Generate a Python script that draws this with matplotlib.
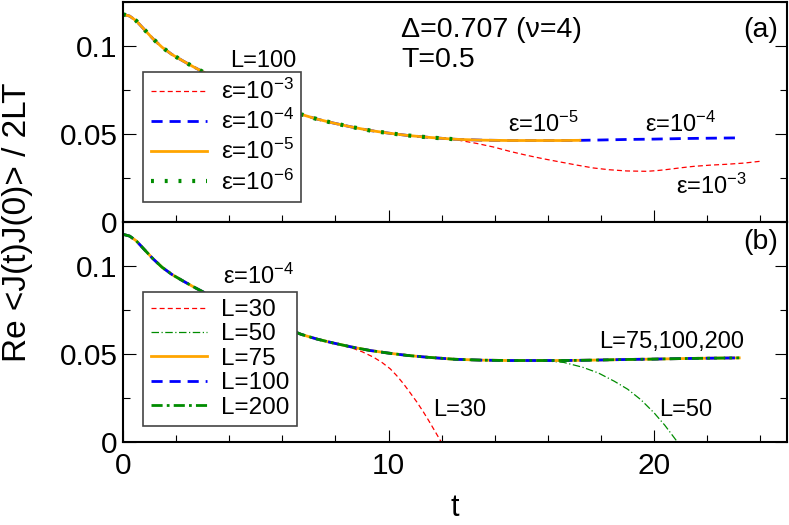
import numpy as np
import matplotlib
matplotlib.use('Agg')
import matplotlib.pyplot as plt
from matplotlib.ticker import MultipleLocator

plt.rcParams['font.family'] = ['Liberation Sans', 'DejaVu Sans']
plt.rcParams['mathtext.fontset'] = 'custom'
plt.rcParams['mathtext.rm'] = 'Liberation Sans'
plt.rcParams['mathtext.it'] = 'Liberation Sans'

# common curve (converged part)
t_main = np.array([0, 0.25, 0.5, 0.8, 1.13, 1.47, 1.85, 2.26, 2.66, 3.0, 3.5, 4.0,
                   4.5, 5.0, 5.5, 6.0, 6.7, 7.3, 7.9, 8.6, 9.3, 10.0, 10.7, 11.5,
                   12.5, 13.5, 14.5, 15.5, 16.5, 17.2, 18.0, 19.0, 20.0, 21.0,
                   22.0, 23.2])
c_main = np.array([0.1180, 0.1170, 0.1143, 0.1094, 0.1041, 0.0993, 0.0951, 0.0915,
                   0.0881, 0.0854, 0.0815, 0.0779, 0.0745, 0.0714, 0.0684, 0.0656,
                   0.0612, 0.0585, 0.0563, 0.0540, 0.0520, 0.0505, 0.0492, 0.0481,
                   0.0470, 0.0465, 0.0463, 0.0463, 0.0463, 0.0464, 0.0466, 0.0469,
                   0.0471, 0.0474, 0.0476, 0.0478])

# (a) eps = 1e-3 tail after it leaves the common curve
t_e3 = np.array([12.7, 13.3, 13.95, 14.6, 15.2, 15.8, 16.46, 17.1, 17.71, 18.3,
                 18.97, 19.72, 20.1, 20.47, 21.0, 21.48, 22.1, 22.73, 23.4, 24.05])
c_e3 = np.array([0.0463, 0.0447, 0.0426, 0.0400, 0.0379, 0.0360, 0.0341, 0.0323,
                 0.0307, 0.0297, 0.0290, 0.0288, 0.0292, 0.0298, 0.0308, 0.0316,
                 0.0323, 0.0328, 0.0335, 0.0346])
tend_e5 = 17.2
tend_e6 = 12.6

# (b) L=30 and L=50 tails
t_L30 = np.array([8.55, 9.0, 9.43, 9.75, 10.06, 10.3, 10.56, 10.8, 11.06, 11.3,
                  11.5, 11.75, 12.0])
c_L30 = np.array([0.0538, 0.0513, 0.0482, 0.0452, 0.0416, 0.0378, 0.0331, 0.0282,
                  0.0228, 0.0173, 0.0124, 0.0060, -0.0005])
t_L50 = np.array([16.0, 16.6, 17.3, 17.9, 18.5, 19.0, 19.5, 20.0, 20.4, 20.9])
c_L50 = np.array([0.0460, 0.0452, 0.0425, 0.0392, 0.0345, 0.0300, 0.0240, 0.0165,
                  0.0095, -0.0005])


def head(tcut):
    m = t_main < tcut
    return t_main[m], c_main[m]


def join(tt, cc):
    t0, c0 = head(tt[0])
    return np.concatenate([t0, tt]), np.concatenate([c0, cc])


fig = plt.figure(figsize=(7.89, 5.25), dpi=100)
W, H = 789., 525.
ax1 = fig.add_axes([123 / W, 1 - 222 / H, 664 / W, 220 / H])
ax2 = fig.add_axes([123 / W, 1 - 442 / H, 664 / W, 220 / H])

red = '#ff0000'
blue = '#0000ff'
orange = '#ffa500'
green = '#008c00'

# panel (a)
x, y = join(t_e3, c_e3)
ax1.plot(x, y, color=red, lw=0.9, dashes=(4, 2.5), label=r'ε=10$^{-3}$')
ax1.plot(t_main, c_main, color=blue, lw=2.0, dashes=(4, 2.5), label=r'ε=10$^{-4}$')
x, y = head(tend_e5 + 0.01)
ax1.plot(x, y, color=orange, lw=2.0, label=r'ε=10$^{-5}$')
x, y = head(tend_e6 + 0.01)
ax1.plot(x, y, color=green, lw=3.0, dashes=(0.7, 2.6), label=r'ε=10$^{-6}$')

# panel (b)
x, y = join(t_L30, c_L30)
ax2.plot(x, y, color=red, lw=0.9, dashes=(4, 2.5), label='L=30')
x, y = join(t_L50, c_L50)
ax2.plot(x, y, color=green, lw=0.9, dashes=(6, 2, 1, 2), label='L=50')
ax2.plot(t_main, c_main, color=orange, lw=2.0, label='L=75')
ax2.plot(t_main, c_main, color=blue, lw=2.0, dashes=(4, 2.5), label='L=100')
ax2.plot(t_main, c_main, color=green, lw=2.0, dashes=(4, 1.5, 1, 1.5), label='L=200')

for ax, lsp in ((ax1, 0.2), (ax2, 0.1)):
    ax.set_xlim(0, 25)
    ax.set_ylim(0, 0.125)
    ax.xaxis.set_major_locator(MultipleLocator(10))
    ax.xaxis.set_minor_locator(MultipleLocator(2))
    ax.yaxis.set_major_locator(MultipleLocator(0.05))
    ax.yaxis.set_minor_locator(MultipleLocator(0.025))
    ax.set_yticks([0, 0.05, 0.1])
    ax.set_yticklabels(['0', '0.05', '0.1'])
    ax.tick_params(which='both', direction='in', top=False, right=True,
                   labelsize=21.5, width=0.8, pad=4)
    ax.tick_params(which='major', length=9)
    ax.tick_params(which='minor', length=5)
    for s in ax.spines.values():
        s.set_linewidth(1.5)
    leg = ax.legend(loc='upper left', bbox_to_anchor=(0.0306, 0.683),
                    borderaxespad=0, fontsize=17.5, handlelength=2.3,
                    labelspacing=lsp, handletextpad=0.6, borderpad=0.3,
                    fancybox=False, framealpha=1, edgecolor='#444444')
    leg.get_frame().set_linewidth(1.2)

ax1.tick_params(labelbottom=False)
ax2.set_xticks([0, 10, 20])
ax2.set_xticklabels(['0', '10', '20'])
ax2.tick_params(axis='x', pad=7)

fs = 17
ax1.text(4.05, 0.088, 'L=100', fontsize=fs)
ax1.text(10.48, 0.105, 'Δ=0.707 (ν=4)', fontsize=20.5)
ax1.text(10.48, 0.088, 'T=0.5', fontsize=20.5)
ax1.text(23.35, 0.105, '(a)', fontsize=20.5)
ax1.text(14.5, 0.051, r'ε=10$^{-5}$', fontsize=fs)
ax1.text(19.66, 0.051, r'ε=10$^{-4}$', fontsize=fs)
ax1.text(20.83, 0.0162, r'ε=10$^{-3}$', fontsize=fs)

ax2.text(3.78, 0.0897, r'ε=10$^{-4}$', fontsize=fs)
ax2.text(11.68, 0.0147, 'L=30', fontsize=fs)
ax2.text(20.2, 0.0147, 'L=50', fontsize=fs)
ax2.text(17.94, 0.0535, 'L=75,100,200', fontsize=fs)
ax2.text(23.35, 0.1094, '(b)', fontsize=20.5)

fig.text(18 / W, 1 - 222 / H, 'Re <J(t)J(0)> / 2LT', rotation=90, fontsize=24,
         ha='center', va='center')
fig.text(455 / W, 0.004, 't', fontsize=22, ha='center', va='bottom')

fig.savefig('out.png', dpi=100)
